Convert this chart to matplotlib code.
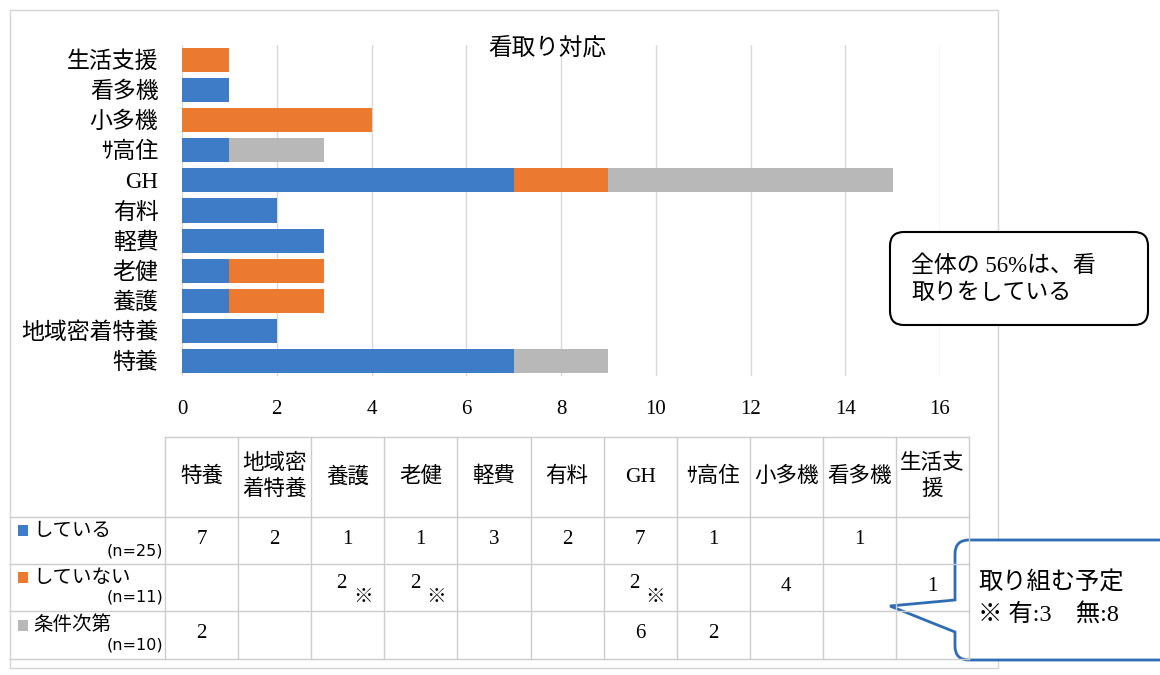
import numpy as np
import matplotlib.pyplot as plt
from matplotlib.patches import Rectangle, FancyBboxPatch, PathPatch
from matplotlib.path import Path
from matplotlib.lines import Line2D

plt.rcParams['font.family'] = ['Liberation Serif', 'Noto Sans CJK JP', 'DejaVu Sans']

# data (bottom -> top in the chart)
categories = ['特養', '地域密着特養', '養護', '老健', '軽費', '有料', 'GH', 'ｻ高住', '小多機', '看多機', '生活支援']
table_heads = ['特養', '地域密\n着特養', '養護', '老健', '軽費', '有料', 'GH', 'ｻ高住', '小多機', '看多機', '生活支\n援']
doing = [7, 2, 1, 1, 3, 2, 7, 1, 0, 1, 0]
not_doing = [0, 0, 2, 2, 0, 0, 2, 0, 4, 0, 1]
conditional = [2, 0, 0, 0, 0, 0, 6, 2, 0, 0, 0]
planned_mark = [False, False, True, True, False, False, True, False, False, False, False]
series_names = ['している', 'していない', '条件次第']
series_n = ['(n=25)', '(n=11)', '(n=10)']
colors = ['#3F7CC8', '#EB7A30', '#B8B8B8']

W, H = 1160, 675


def P(x, y):
    # pixel (from top-left) -> figure fraction
    return (x / W, 1 - y / H)


fig = plt.figure(figsize=(11.6, 6.75), dpi=100)
ft = fig.transFigure

# outer chart frame
x0, y0 = P(10, 668)
x1, y1 = P(998, 10)
fig.patches.append(Rectangle((x0, y0), x1 - x0, y1 - y0, transform=ft,
                             fill=False, ec='#d4d4d4', lw=1))

# bar chart
l, b = P(182, 376)
r, t = P(940, 45)
ax = fig.add_axes([l, b, r - l, t - b])
y = np.arange(len(categories))
left = np.zeros(len(categories))
for vals, c in zip([doing, not_doing, conditional], colors):
    ax.barh(y, vals, left=left, height=0.8, color=c, zorder=3)
    left = left + np.array(vals)
ax.set_xlim(0, 16)
ax.set_ylim(-0.5, len(categories) - 0.5)
ax.set_xticks(range(0, 17, 2))
ax.set_yticks(y)
ax.set_yticklabels(categories, fontsize=16.5)
ax.tick_params(axis='x', length=0, pad=17, labelsize=15)
ax.tick_params(axis='y', length=0, pad=17)
ax.grid(axis='x', color='#d9d9d9', lw=1, zorder=0)
for s in ax.spines.values():
    s.set_visible(False)
ax.set_facecolor('none')
fig.text(*P(547, 49), '看取り対応', fontsize=17, ha='center', va='center')

# data table
col_left, col_w = 165, 73.1
rows = [437, 517, 564, 611, 659]
grid_c = '#cccccc'
ncol = len(table_heads)
for i in range(ncol + 1):
    xa, ya = P(col_left + i * col_w, rows[0])
    xb, yb = P(col_left + i * col_w, rows[-1])
    fig.lines.append(Line2D([xa, xb], [ya, yb], transform=ft, color=grid_c, lw=1))
for j, ry in enumerate(rows):
    xs = col_left if j == 0 else 10
    xa, ya = P(xs, ry)
    xb, yb = P(col_left + ncol * col_w, ry)
    fig.lines.append(Line2D([xa, xb], [ya, yb], transform=ft, color=grid_c, lw=1))

for i, h in enumerate(table_heads):
    cx, cy = P(col_left + (i + 0.5) * col_w, (rows[0] + rows[1]) / 2)
    fig.text(cx, cy, h, fontsize=15.5, ha='center', va='center', linespacing=1.35)

row_vals = [doing, not_doing, conditional]
for j, vals in enumerate(row_vals):
    ry = (rows[j + 1] + rows[j + 2]) / 2
    for i, v in enumerate(vals):
        if v == 0:
            continue
        cx = col_left + (i + 0.5) * col_w
        if j == 1 and planned_mark[i]:
            fig.text(*P(cx - 6, ry - 4), str(v), fontsize=15, ha='center', va='center')
            fig.text(*P(cx + 15, ry + 10), '※', fontsize=14, ha='center', va='center')
        else:
            fig.text(*P(cx, ry - 1), str(v), fontsize=15, ha='center', va='center')

    # legend keys in the row header
    kx, ky = P(18, ry - 10)
    kw, kh = 10 / W, 11 / H
    fig.patches.append(Rectangle((kx, ky - kh / 2), kw, kh, transform=ft,
                                 color=colors[j], lw=0))
    fig.text(*P(33, ry - 10), series_names[j], fontsize=14, ha='left', va='center',
             family=['Noto Sans CJK JP'])
    fig.text(*P(163, ry + 10), series_n[j], fontsize=11.5, ha='right', va='center',
             family=['DejaVu Sans'])

# callout 1
bx0, by0 = P(890, 325)
bx1, by1 = P(1148, 232)
fig.patches.append(FancyBboxPatch((bx0, by0), bx1 - bx0, by1 - by0, transform=ft,
                                  boxstyle='round,pad=0,rounding_size=0.012',
                                  fc='white', ec='black', lw=1.5, mutation_aspect=W / H))
fig.text(*P(911, 280), '全体の 56%は、看\n取りをしている', fontsize=16.5,
         ha='left', va='center', linespacing=1.35)

# callout 2 (with tail)
rc = 14
pts = [
    (955, 540 + rc), (955, 600), (890, 606), (955, 632), (955, 660 - rc),
    (955, 660), (955 + rc, 660), (1180, 660), (1180, 540), (955 + rc, 540), (955, 540), (955, 540 + rc)
]
codes = [Path.MOVETO, Path.LINETO, Path.LINETO, Path.LINETO, Path.LINETO,
         Path.CURVE3, Path.CURVE3, Path.LINETO, Path.LINETO, Path.LINETO,
         Path.CURVE3, Path.CURVE3]
path = Path([P(px, py) for px, py in pts], codes)
fig.patches.append(PathPatch(path, transform=ft, fc='white', ec='#2E6DB4', lw=2))
fig.text(*P(978, 583), '取り組む予定', fontsize=17.5, ha='left', va='center')
fig.text(*P(978, 614), '※ 有:3　無:8', fontsize=17.5, ha='left', va='center')

fig.savefig('out.png', dpi=100)
